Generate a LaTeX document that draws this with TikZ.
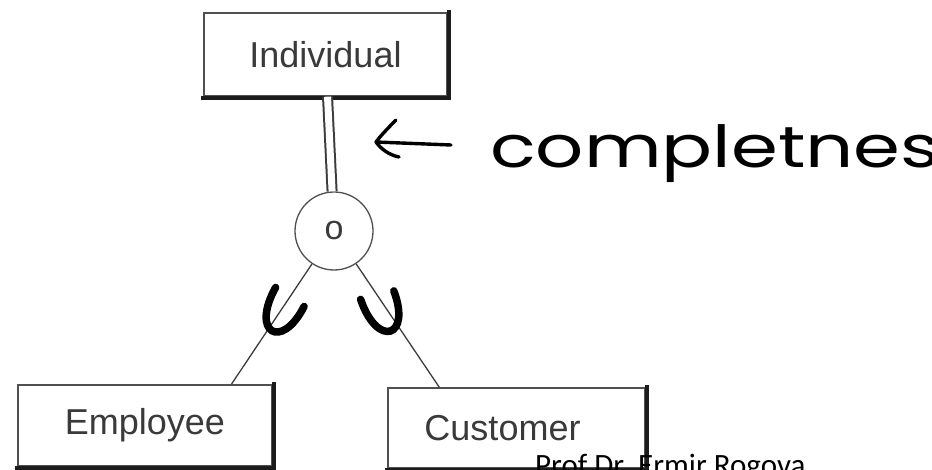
\documentclass[tikz,border=0pt]{standalone}
\usepackage{fontspec}
\setmainfont{Liberation Sans}
\newfontfamily\handfont{Poppins}
\newfontfamily\notefont{Carlito}
\usetikzlibrary{calc}

\definecolor{boxline}{HTML}{505050}
\definecolor{shadeline}{HTML}{1C1C1C}
\definecolor{labelgray}{HTML}{3A3A3A}
\definecolor{linkgray}{HTML}{3C3C3C}

\tikzset{
  entity/.style={draw=boxline, line width=1.3pt, fill=white, inner sep=0pt,
    font=\fontsize{36}{40}\selectfont, text=labelgray},
  shadeedge/.style={draw=shadeline, line width=4pt, line cap=rect},
  joint/.style={circle, draw=boxline, line width=1.3pt, fill=white,
    minimum size=78pt, inner sep=0pt, font=\fontsize{34}{36}\selectfont, text=labelgray},
  link/.style={draw=linkgray, line width=1.3pt},
  totalink/.style={draw=linkgray, line width=2pt, double=white, double distance=7pt},
  cupstroke/.style={draw=black, line width=7.5pt, line cap=round},
  hand/.style={draw=black, line width=3.4pt, line cap=round, line join=round},
  cup/.pic={\draw[cupstroke] (-17,2) .. controls (-19,-50) and (17,-52) .. (17,-2);}
}

\begin{document}
\begin{tikzpicture}[x=1pt,y=1pt]
  \useasboundingbox (0,0) rectangle (932,-470);
  \clip (0,0) rectangle (932,-470);
  \fill[white] (0,0) rectangle (932,-470);

  % entities
  \node[entity, minimum width=243pt, minimum height=83pt] (ind) at (325.5,-54.5) {Individual};
  \node[entity, minimum width=254pt, minimum height=81pt] (emp) at (145,-425.5) {Employee};
  \node[entity, minimum width=257pt, minimum height=80pt] (cus) at (516.5,-428) {\hspace*{-28pt}Customer};

  % shaded lower and right edges of the boxes
  \foreach \n in {ind,emp,cus}
    \draw[shadeedge] ([xshift=1pt]\n.north east) -- ([shift={(1pt,-1pt)}]\n.south east) -- ([yshift=-1pt]\n.south west);

  % specialization circle
  \node[joint] (c) at (334,-231) {o};

  % attachment points on the subclass boxes
  \coordinate (eTop) at ($(emp.north west)+(214,0)$);
  \coordinate (cTop) at ($(cus.north west)+(52,0)$);

  % connectors
  \draw[totalink] (ind) -- (c);
  \draw[link] (c) -- (eTop);
  \draw[link] (c) -- (cTop);

  % subset symbols on the connectors
  \pic[rotate=-27] at ($(c)!0.43!(eTop)$) {cup};
  \pic[rotate=21] at ($(c)!0.41!(cTop)$) {cup};

  % handwritten note
  \coordinate (arrTail) at (451,-145);
  \coordinate (arrTip) at (376,-142);
  \draw[hand] (arrTail) -- (arrTip);
  \draw[hand] (396,-120) .. controls (384,-132) and (379,-138) .. (arrTip)
              .. controls (381,-149) and (389,-155) .. (399,-157);
  \node[anchor=base west, inner sep=0pt, font=\handfont\fontsize{58}{60}\selectfont]
    (note) at (490,-168) {\scalebox{1.3}[1]{completness}};

  % footer
  \node[anchor=base west, inner sep=0pt, font=\notefont\fontsize{31}{33}\selectfont]
    (footer) at (535,-475) {Prof Dr. Ermir Rogova};
\end{tikzpicture}
\end{document}
